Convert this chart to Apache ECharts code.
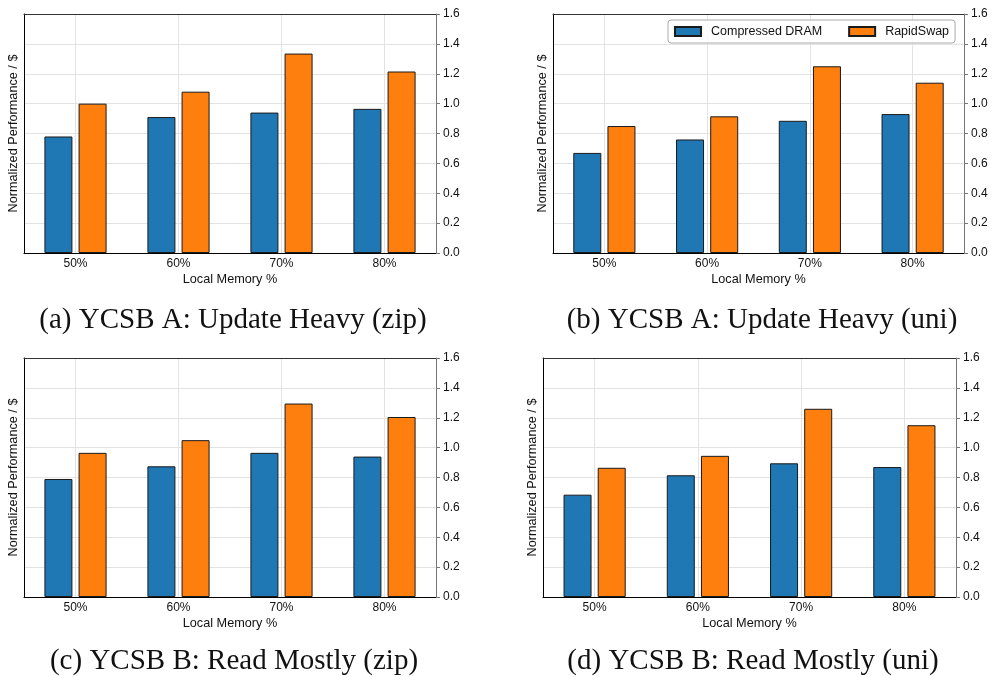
<!DOCTYPE html>
<html>
<head>
<meta charset="utf-8">
<script src="https://cdn.jsdelivr.net/npm/echarts@6/dist/echarts.min.js"></script>
<style>
html,body{margin:0;padding:0;background:#fff;}
#chart{width:993px;height:677px;}
</style>
</head>
<body>
<div id="chart"></div>
<script>
// ---- data ----
var categories = ['50%', '60%', '70%', '80%'];
var seriesNames = ['Compressed DRAM', 'RapidSwap'];
var aCompressed = [0.78, 0.91, 0.94, 0.965];
var aRapid      = [1.0, 1.08, 1.335, 1.215];
var bCompressed = [0.67, 0.76, 0.885, 0.93];
var bRapid      = [0.85, 0.915, 1.25, 1.14];
var cCompressed = [0.79, 0.875, 0.965, 0.94];
var cRapid      = [0.965, 1.05, 1.295, 1.205];
var dCompressed = [0.685, 0.815, 0.895, 0.87];
var dRapid      = [0.865, 0.945, 1.26, 1.15];
var yTickMin = 0, yTickMax = 1.6, yTickStep = 0.2;
var captions = [
  '(a) YCSB A: Update Heavy (zip)',
  '(b) YCSB A: Update Heavy (uni)',
  '(c) YCSB B: Read Mostly (zip)',
  '(d) YCSB B: Read Mostly (uni)'
];
var xName = 'Local Memory %';
var yName = 'Normalized Performance / $';

// ---- layout ----
var panels = [
  {grid: {left: 24, top: 14, width: 412, height: 239}, comp: aCompressed, rapid: aRapid, cap: [233, 320]},
  {grid: {left: 553, top: 14, width: 411, height: 239}, comp: bCompressed, rapid: bRapid, cap: [762, 320]},
  {grid: {left: 24, top: 358, width: 412, height: 239}, comp: cCompressed, rapid: cRapid, cap: [234, 661]},
  {grid: {left: 543, top: 358, width: 413, height: 239}, comp: dCompressed, rapid: dRapid, cap: [753, 661]}
];

var sans = 'Liberation Sans, Arial, Helvetica, sans-serif';
var grids = [], xAxes = [], yAxes = [], series = [], graphics = [];

panels.forEach(function (p, i) {
  grids.push(Object.assign({containLabel: false}, p.grid));
  xAxes.push({
    type: 'category', gridIndex: i, data: categories, position: 'bottom',
    axisLine: {show: true, onZero: false, lineStyle: {color: '#000', width: 1}},
    axisTick: {show: false},
    axisLabel: {color: '#111', fontFamily: sans, fontSize: 12, margin: 5},
    splitLine: {show: true, interval: 0, alignWithLabel: true, lineStyle: {color: '#e3e3e3', width: 1}},
    name: xName, nameLocation: 'middle', nameGap: 20,
    nameTextStyle: {color: '#111', fontFamily: sans, fontSize: 12.7}
  });
  xAxes.push({
    type: 'category', gridIndex: i, data: categories, position: 'top',
    axisLine: {show: true, onZero: false, lineStyle: {color: '#333', width: 1}},
    axisTick: {show: false}, axisLabel: {show: false}, splitLine: {show: false}
  });
  yAxes.push({
    type: 'value', gridIndex: i, position: 'right',
    min: yTickMin, max: yTickMax, interval: yTickStep,
    axisLine: {show: true, onZero: false, lineStyle: {color: '#777', width: 1}},
    axisTick: {show: true, length: 4, lineStyle: {color: '#777'}},
    axisLabel: {color: '#111', fontFamily: sans, fontSize: 12, margin: 7,
      formatter: function (v) { return v.toFixed(1); }},
    splitLine: {show: true, lineStyle: {color: '#e3e3e3', width: 1}}
  });
  yAxes.push({
    type: 'value', gridIndex: i, position: 'left',
    min: yTickMin, max: yTickMax, interval: yTickStep,
    axisLine: {show: true, onZero: false, lineStyle: {color: '#000', width: 1}},
    axisTick: {show: false}, axisLabel: {show: false}, splitLine: {show: false},
    name: yName, nameLocation: 'middle', nameGap: 4,
    nameTextStyle: {color: '#111', fontFamily: sans, fontSize: 12.7}
  });
  series.push({
    name: seriesNames[0], type: 'bar', xAxisIndex: 2 * i, yAxisIndex: 2 * i,
    data: p.comp, barWidth: 28, barGap: '22%',
    itemStyle: {color: '#1f77b4', borderColor: '#1a1a1a', borderWidth: 1}
  });
  series.push({
    name: seriesNames[1], type: 'bar', xAxisIndex: 2 * i, yAxisIndex: 2 * i,
    data: p.rapid, barWidth: 28, barGap: '22%',
    itemStyle: {color: '#ff7f0e', borderColor: '#1a1a1a', borderWidth: 1}
  });
  graphics.push({
    type: 'text', x: p.cap[0], y: p.cap[1],
    style: {text: captions[i], fill: '#111', align: 'center', verticalAlign: 'middle',
      font: '29px "Liberation Serif", "Times New Roman", serif'}
  });
});

var chart = echarts.init(document.getElementById('chart'), null, {renderer: 'canvas'});
chart.setOption({
  animation: false,
  backgroundColor: '#fff',
  grid: grids,
  xAxis: xAxes,
  yAxis: yAxes,
  series: series,
  legend: {
    data: seriesNames, left: 668, top: 20, orient: 'horizontal',
    itemWidth: 26, itemHeight: 9, itemGap: 26, icon: 'rect',
    padding: [5, 6, 5, 6],
    borderColor: '#aaa', borderWidth: 1, borderRadius: 3,
    backgroundColor: 'rgba(255,255,255,0.85)',
    textStyle: {color: '#111', fontFamily: sans, fontSize: 12.5, padding: [0, 0, 0, 5]}
  },
  graphic: graphics
});
</script>
</body>
</html>
